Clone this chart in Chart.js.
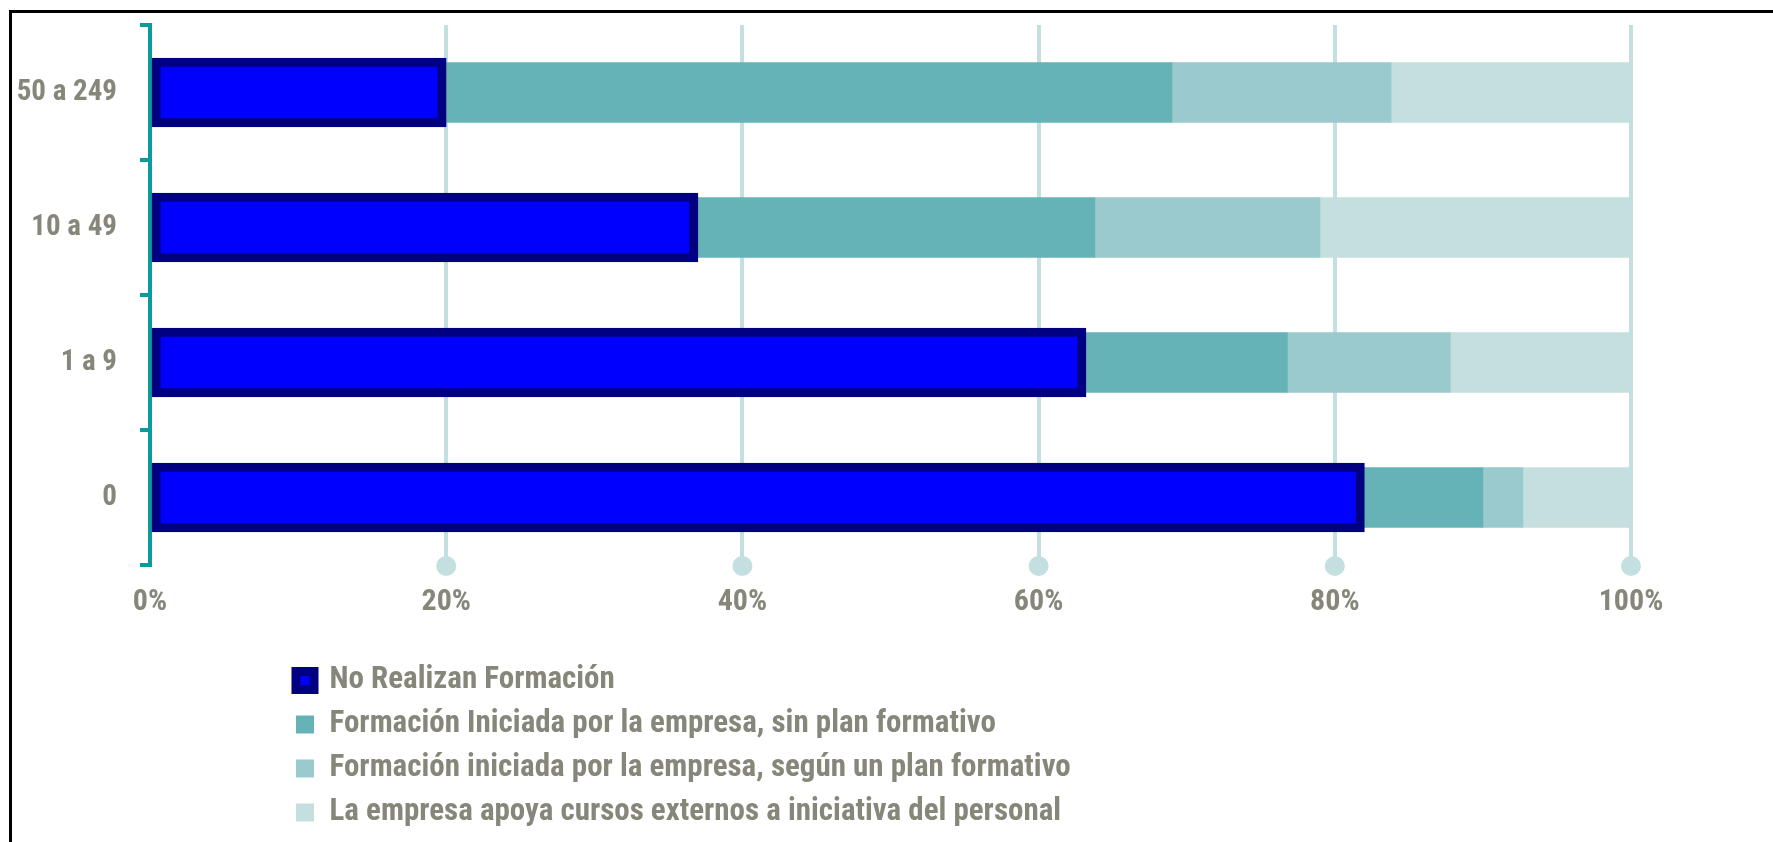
<!DOCTYPE html>
<html>
<head>
<meta charset="utf-8">
<script src="https://cdn.jsdelivr.net/npm/chart.js@4/dist/chart.umd.min.js"></script>
<style>
  html, body { margin: 0; padding: 0; background: #ffffff; }
  #wrap { position: relative; width: 1773px; height: 842px; overflow: hidden; }
  #frame { position: absolute; left: 9px; top: 10px; right: -10px; bottom: -10px;
           border-top: 3px solid #000; border-left: 3px solid #000; }
  canvas { position: absolute; left: 0; top: 0; }
</style>
</head>
<body>
<div id="wrap">
  <div id="frame"></div>
  <canvas id="c" width="1773" height="842"></canvas>
</div>
<script>
// ---- data ----
const categories = ['50 a 249', '10 a 49', '1 a 9', '0'];
const noRealizan = [20, 37, 63.2, 82];
const sinPlan = [49, 26.8, 13.6, 8];
const segunPlan = [14.8, 15.2, 11, 2.7];
const apoyaCursos = [16.2, 21, 12.2, 7.3];
const seriesNames = [
  'No Realizan Formación',
  'Formación Iniciada por la empresa, sin plan formativo',
  'Formación iniciada por la empresa, según un plan formativo',
  'La empresa apoya cursos externos a iniciativa del personal'
];
const xTickValues = [0, 20, 40, 60, 80, 100];

// ---- styles ----
const FONT = "'Roboto Condensed', 'Liberation Sans Narrow', 'DejaVu Sans Condensed', sans-serif";
const TEXT = '#86867a';
const GRID = '#c4dfdf';
const AXIS = '#0a9c9c';

Chart.defaults.font.family = FONT;

const gridDots = {
  id: 'gridDots',
  beforeDatasetsDraw(chart) {
    const xs = chart.scales.x;
    const { ctx, chartArea } = chart;
    ctx.save();
    ctx.fillStyle = GRID;
    xs.ticks.forEach((t, i) => {
      if (i === 0) return;
      const px = xs.getPixelForTick(i);
      ctx.beginPath();
      ctx.arc(px, chartArea.bottom + 1, 10, 0, Math.PI * 2);
      ctx.fill();
    });
    ctx.restore();
  }
};

const legendColumn = {
  id: 'legendColumn',
  beforeDraw(chart) {
    const lg = chart.legend;
    lg.left = 283; lg.top = 652; lg.right = 1400; lg.bottom = 842;
    lg.width = lg.right - lg.left; lg.height = lg.bottom - lg.top;
  }
};

new Chart(document.getElementById('c'), {
  type: 'bar',
  data: {
    labels: categories,
    datasets: [
      { label: seriesNames[0], data: noRealizan, backgroundColor: '#0000ff', borderColor: '#000080',
        borderWidth: 9, borderSkipped: false, barThickness: 69 },
      { label: seriesNames[1], data: sinPlan, backgroundColor: '#65b3b6', borderColor: '#65b3b6',
        borderWidth: 0, barThickness: 60 },
      { label: seriesNames[2], data: segunPlan, backgroundColor: '#9acacd', borderColor: '#9acacd',
        borderWidth: 0, barThickness: 60 },
      { label: seriesNames[3], data: apoyaCursos, backgroundColor: '#c5dfdf', borderColor: '#c5dfdf',
        borderWidth: 0, barThickness: 60 }
    ]
  },
  options: {
    indexAxis: 'y',
    responsive: false,
    animation: false,
    devicePixelRatio: 1,
    layout: { padding: { left: 0, right: 142, top: 25, bottom: 197 } },
    scales: {
      x: {
        stacked: true,
        min: 0, max: 100,
        afterBuildTicks: (s) => { s.ticks = xTickValues.map(v => ({ value: v })); },
        afterFit: (s) => { s.height = 80; },
        grid: { color: GRID, lineWidth: 4, drawTicks: false },
        border: { display: false },
        ticks: {
          padding: 19,
          color: TEXT,
          font: { size: 30, weight: 'bold' },
          callback: (v) => v + '%'
        }
      },
      y: {
        stacked: true,
        afterFit: (s) => { s.width = 150; s.paddingTop = 0; s.paddingBottom = 0; },
        grid: { color: AXIS, lineWidth: 4, drawOnChartArea: false, drawTicks: true, tickLength: 10, offset: true },
        border: { display: true, color: AXIS, width: 4 },
        ticks: {
          padding: 23,
          color: TEXT,
          font: { size: 29, weight: 'bold' }
        }
      }
    },
    plugins: {
      tooltip: { enabled: false },
      legend: {
        position: 'chartArea',
        align: 'start',
        labels: {
          boxWidth: 18,
          boxHeight: 18,
          padding: 13,
          color: TEXT,
          font: { size: 31, weight: 'bold' }
        }
      }
    }
  },
  plugins: [gridDots, legendColumn]
});
</script>
</body>
</html>
